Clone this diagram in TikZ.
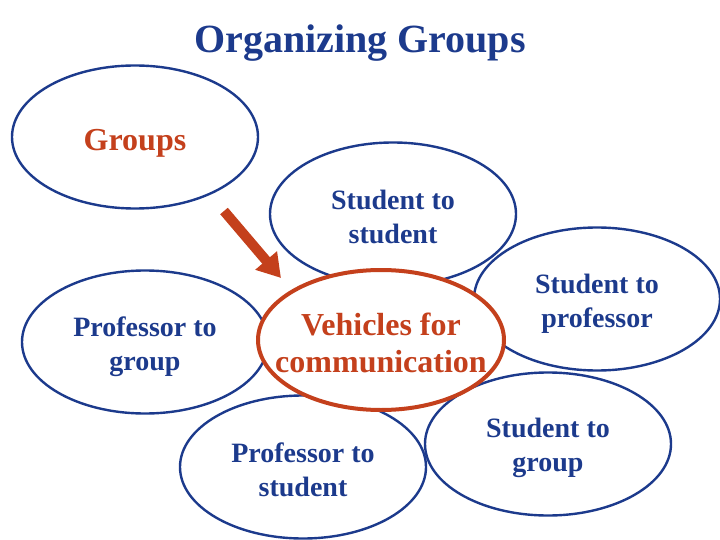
\documentclass[tikz,border=0pt]{standalone}
\usepackage{fontspec}
\setmainfont{Liberation Serif}
\usetikzlibrary{
  arrows.meta,
  shapes.geometric
}
\definecolor{navy}{RGB}{28,58,140}
\definecolor{rust}{RGB}{196,64,28}
\tikzset{
%
  % For the outlines of the bubbles.
  line/.style={
    line width=2.4pt},
%
  % For the bubbles in general.
  bubble/.style={
    line,
    draw=navy,
    ellipse,
    inner sep=0pt,
    minimum width=246pt,
    minimum height=143pt},
%
  % For the bubble in the middle.
  hub/.style={
    bubble,
    draw=rust,
    fill=white,
    line width=4pt,
    minimum width=246pt,
    minimum height=140pt},
%
  % For the texts in the bubbles.
  word/.style={
    text=navy,
    font=\bfseries\fontsize{28}{33.6}\selectfont,
    align=center},
%
  % For the red texts.
  key word/.style={
    word,
    text=rust,
    font=\bfseries\fontsize{32}{37}\selectfont},
%
  % For the big arrow.
  pointer/.style={
    rust,
    line width=10pt,
    -{Triangle[length=23pt,
               width=27pt]}}
}

\begin{document}
\begin{tikzpicture}[x=1pt,y=-1pt]
  \useasboundingbox (0,0) rectangle (720,540);

  \node[text=navy,
        font=\bfseries\fontsize{40}{48}\selectfont] (T) at (360,43) {Organizing Groups};

  \node[bubble] (G) at (135,137) {};
  \node[bubble] (SS) at (393,214) {};
  \node[bubble] (PG) at (145,342) {};
  \node[bubble] (SP) at (597,299) {};
  \node[bubble] (SG) at (548,444) {};
  \node[bubble] (PS) at (303,467) {};
  \node[hub] (V) at (381,340) {};

  \node[key word] (GT) at ([yshift=-6pt]G) {Groups};
  \node[word] (SST) at ([yshift=-3pt]SS) {Student to\\student};
  \node[word] (PGT) at ([yshift=-5pt]PG) {Professor to\\group};
  \node[word] (SPT) at ([yshift=-5pt]SP) {Student to\\professor};
  \node[word] (SGT) at ([yshift=-4pt]SG) {Student to\\group};
  \node[word] (PST) at ([yshift=-3pt]PS) {Professor to\\student};
  \node[key word] (VT) at ([yshift=-3pt]V) {Vehicles for\\communication};

  \coordinate (A) at (224,211);
  \coordinate (B) at (281,278);
  \draw[pointer] (A) -- (B);
\end{tikzpicture}
\end{document}
